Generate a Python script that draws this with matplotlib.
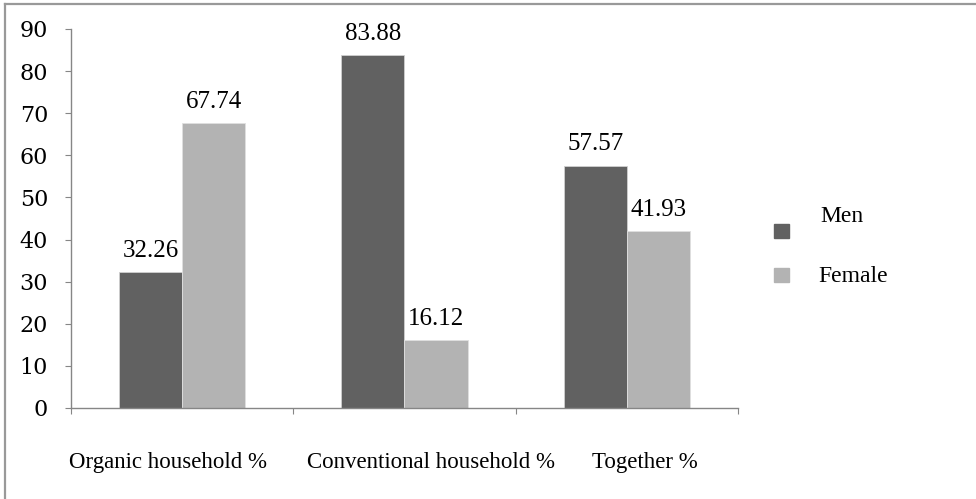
import matplotlib.pyplot as plt
import numpy as np
from matplotlib.lines import Line2D

categories = ['Organic household %', 'Conventional household %', 'Together %']
men = [32.26, 83.88, 57.57]
female = [67.74, 16.12, 41.93]
yticks = [0, 10, 20, 30, 40, 50, 60, 70, 80, 90]
label_shift = [-0.063, 0.12, 0.08]  # category labels sit a bit off-centre

plt.rcParams['font.family'] = ['Liberation Serif', 'DejaVu Serif']

fig = plt.figure(figsize=(9.76, 4.99), dpi=100)
ax = fig.add_axes([0.0727, 0.1824, 0.6834, 0.7595])

x = np.arange(len(categories))
w = 0.284
men_c = '#616161'
fem_c = '#b3b3b3'
ax.bar(x - w / 2, men, w, color=men_c, edgecolor='#d0d0d0', linewidth=0.6)
ax.bar(x + w / 2, female, w, color=fem_c, edgecolor='#e0e0e0', linewidth=0.6)

for i in range(len(categories)):
    ax.text(x[i] - w / 2, men[i] + 3.6, f'{men[i]:.2f}', ha='center', va='baseline', fontsize=18)
    ax.text(x[i] + w / 2, female[i] + 3.6, f'{female[i]:.2f}', ha='center', va='baseline', fontsize=18)

ax.set_xlim(-0.5, len(categories) - 0.5)
ax.set_ylim(0, 90)
ax.set_yticks(yticks)
ax.set_yticklabels([str(t) for t in yticks], fontsize=16, family='DejaVu Serif')
ax.tick_params(axis='y', direction='out', length=4.5, color='#868686', pad=12)

# category labels below, tick marks at boundaries
ax.set_xticks(np.arange(-0.5, len(categories)))
ax.set_xticklabels([''] * (len(categories) + 1))
ax.tick_params(axis='x', direction='out', length=4.5, color='#868686')
for i, c in enumerate(categories):
    ax.text(x[i] + label_shift[i], -13, c, ha='center', va='center', fontsize=16.5)

for s in ['top', 'right']:
    ax.spines[s].set_visible(False)
for s in ['left', 'bottom']:
    ax.spines[s].set_color('#868686')
    ax.spines[s].set_linewidth(1.0)

# legend
fig.add_artist(plt.Rectangle((774 / 976, 1 - 238 / 499), 15 / 976, 14 / 499,
                             transform=fig.transFigure, color=men_c))
fig.add_artist(plt.Rectangle((774 / 976, 1 - 282 / 499), 15 / 976, 14 / 499,
                             transform=fig.transFigure, color=fem_c))
fig.text(820 / 976, 1 - 217 / 499, 'Men', fontsize=17, va='center')
fig.text(818 / 976, 1 - 276 / 499, 'Female', fontsize=17, va='center')

# outer border (top and left only)
fig.add_artist(Line2D([5 / 976, 1], [1 - 4 / 499, 1 - 4 / 499], transform=fig.transFigure,
                      color='#999999', linewidth=1.6))
fig.add_artist(Line2D([5 / 976, 5 / 976], [0, 1 - 4 / 499], transform=fig.transFigure,
                      color='#999999', linewidth=1.6))

plt.savefig('out.png', dpi=100)
